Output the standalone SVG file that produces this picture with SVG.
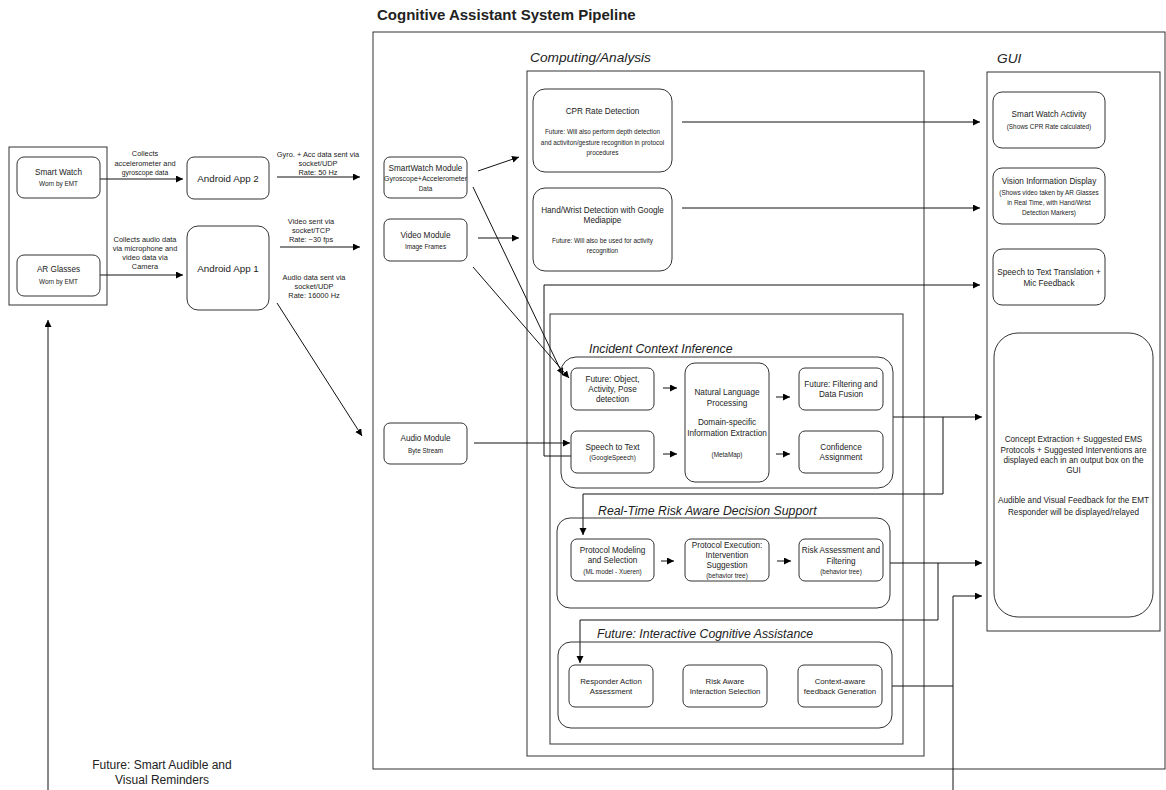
<svg xmlns="http://www.w3.org/2000/svg" width="1166" height="790" viewBox="0 0 1166 790">
<defs>
<marker id="arr" markerUnits="userSpaceOnUse" markerWidth="8" markerHeight="8" refX="7" refY="3.5" orient="auto">
<path d="M0,0 L7,3.5 L0,7 z" fill="#000"/>
</marker>
<style>
text{font-family:"Liberation Sans",Arial,sans-serif;fill:#222;text-anchor:middle;dominant-baseline:central}
.frame{fill:none;stroke:#333;stroke-width:1}
.box{fill:#fff;stroke:#333;stroke-width:1}
.grp{fill:none;stroke:#333;stroke-width:1}
.c{fill:none;stroke:#111;stroke-width:1}
.a{marker-end:url(#arr)}
.t{font-size:8.2px}
.s{font-size:6.4px}
.e{font-size:7.4px}
.h{font-size:13.7px;font-style:italic;text-anchor:start}
.g{font-size:12.3px;font-style:italic;text-anchor:start}
.big{font-size:9.8px}
</style>
</defs>
<rect width="1166" height="790" fill="#fff"/>
<text x="377" y="14" style="font-size:15px;font-weight:bold;text-anchor:start" fill="#000">Cognitive Assistant System Pipeline</text>

<g id="frames">
<rect class="frame" x="373" y="32" width="792" height="737"/>
<rect class="frame" x="527" y="71" width="397" height="685"/>
<rect class="frame" x="987" y="72" width="173" height="559"/>
<rect class="frame" x="550" y="314" width="353" height="430"/>
<rect class="frame" x="9" y="147" width="98" height="158"/>
<text class="h" x="530" y="57">Computing/Analysis</text>
<text class="h" x="997" y="58">GUI</text>
</g>

<g id="connectors">
<line class="c a" x1="100" y1="179" x2="183" y2="179"/>
<line class="c a" x1="100" y1="275" x2="183" y2="275"/>
<line class="c a" x1="277" y1="177" x2="360" y2="177"/>
<line class="c a" x1="280" y1="247" x2="360" y2="247"/>
<line class="c a" x1="277" y1="303" x2="362" y2="436"/>
<line class="c a" x1="478" y1="171" x2="519" y2="157"/>
<line class="c a" x1="478" y1="238" x2="519" y2="238"/>
<line class="c a" x1="473" y1="187" x2="563" y2="375"/>
<line class="c a" x1="473" y1="267" x2="569" y2="378"/>
<line class="c a" x1="474" y1="443" x2="570" y2="443"/>
<polyline class="c a" points="571,456 544,456 544,285 980,285"/>
<line class="c a" x1="682" y1="122" x2="980" y2="122"/>
<line class="c a" x1="682" y1="208" x2="980" y2="208"/>
<line class="c a" x1="893" y1="417" x2="982" y2="417"/>
<polyline class="c a" points="943,417 943,494 583,494 583,535"/>
<line class="c a" x1="890" y1="563" x2="982" y2="563"/>
<polyline class="c a" points="938,563 938,620 580,620 580,663"/>
<line class="c" x1="892" y1="686" x2="953" y2="686"/>
<polyline class="c a" points="953,790 953,596 982,596"/>
<line class="c a" x1="48" y1="790" x2="48" y2="320"/>
<line class="c a" x1="663" y1="388" x2="677" y2="388"/>
<line class="c a" x1="663" y1="454" x2="677" y2="454"/>
<line class="c a" x1="776" y1="397" x2="790" y2="397"/>
<line class="c a" x1="776" y1="454" x2="790" y2="454"/>
<line class="c a" x1="661" y1="561" x2="674" y2="561"/>
<line class="c a" x1="777" y1="561" x2="791" y2="561"/>
<text class="e" x="145" y="153">Collects</text>
<text class="e" x="145" y="163">accelerometer and</text>
<text class="e" x="145" y="172" style="font-size:6.8px">gyroscope data</text>
<text class="e" x="145" y="239">Collects audio data</text>
<text class="e" x="145" y="248">via microphone and</text>
<text class="e" x="145" y="257">video data via</text>
<text class="e" x="145" y="266">Camera</text>
<text class="e" x="318" y="154">Gyro. + Acc data sent via</text>
<text class="e" x="318" y="163">socket/UDP</text>
<text class="e" x="318" y="172">Rate: 50 Hz</text>
<text class="e" x="311" y="221">Video sent via</text>
<text class="e" x="311" y="230">socket/TCP</text>
<text class="e" x="311" y="239">Rate: ~30 fps</text>
<text class="e" x="314" y="277">Audio data sent via</text>
<text class="e" x="314" y="286">socket/UDP</text>
<text class="e" x="314" y="295">Rate: 16000 Hz</text>
<text x="162" y="765" style="font-size:12px">Future: Smart Audible and</text>
<text x="162" y="780" style="font-size:12px">Visual Reminders</text>
</g>

<g id="smart-watch">
<rect class="box" x="17" y="157" width="83" height="41" rx="7"/>
<text class="t" x="58.5" y="172">Smart Watch</text>
<text class="s" x="58.5" y="183">Worn by EMT</text>
</g>
<g id="ar-glasses">
<rect class="box" x="17" y="255" width="83" height="41" rx="7"/>
<text class="t" x="58.5" y="269">AR Glasses</text>
<text class="s" x="58.5" y="281">Worn by EMT</text>
</g>
<g id="android-app-2">
<rect class="box" x="187" y="157" width="82" height="42" rx="7"/>
<text class="big" x="228" y="178">Android App 2</text>
</g>
<g id="android-app-1">
<rect class="box" x="187" y="226" width="82" height="84" rx="11"/>
<text class="big" x="228" y="268">Android App 1</text>
</g>

<g id="smartwatch-module">
<rect class="box" x="384" y="157" width="83" height="41" rx="6"/>
<text class="t" x="425.5" y="168">SmartWatch Module</text>
<text class="s" x="425.5" y="178" style="font-size:7px">Gyroscope+Accelerometer</text>
<text class="s" x="425.5" y="188">Data</text>
</g>
<g id="video-module">
<rect class="box" x="384" y="219" width="83" height="42" rx="6"/>
<text class="t" x="425.5" y="235">Video Module</text>
<text class="s" x="425.5" y="246">Image Frames</text>
</g>
<g id="audio-module">
<rect class="box" x="384" y="423" width="83" height="41" rx="6"/>
<text class="t" x="425.5" y="438">Audio Module</text>
<text class="s" x="425.5" y="450">Byte Stream</text>
</g>

<g id="cpr-rate-detection">
<rect class="box" x="533" y="89" width="139" height="83" rx="12"/>
<text class="t" x="602.5" y="111">CPR Rate Detection</text>
<text class="s" x="602.5" y="131">Future: Will also perform depth detection</text>
<text class="s" x="602.5" y="142">and activiton/gesture recognition in protocol</text>
<text class="s" x="602.5" y="152">procedures</text>
</g>
<g id="hand-wrist-detection">
<rect class="box" x="533" y="188" width="139" height="83" rx="12"/>
<text class="t" x="602.5" y="210">Hand/Wrist Detection with Google</text>
<text class="t" x="602.5" y="220">Mediapipe</text>
<text class="s" x="602.5" y="240">Future: Will also be used for activity</text>
<text class="s" x="602.5" y="250">recognition</text>
</g>

<g id="incident-context-inference">
<rect class="grp" x="561" y="357" width="332" height="131" rx="15"/>
<text class="g" x="589" y="349">Incident Context Inference</text>
</g>
<g id="object-activity-pose">
<rect class="box" x="571" y="368" width="83" height="42" rx="6"/>
<text class="t" x="612.5" y="379">Future: Object,</text>
<text class="t" x="612.5" y="389">Activity, Pose</text>
<text class="t" x="612.5" y="399">detection</text>
</g>
<g id="speech-to-text">
<rect class="box" x="571" y="431" width="83" height="42" rx="6"/>
<text class="t" x="612.5" y="447">Speech to Text</text>
<text class="s" x="612.5" y="457">(GoogleSpeech)</text>
</g>
<g id="nlp">
<rect class="box" x="685" y="363" width="84" height="119" rx="10"/>
<text class="t" x="727" y="392">Natural Language</text>
<text class="t" x="727" y="403">Processing</text>
<text class="t" x="727" y="422">Domain-specific</text>
<text class="t" x="727" y="433">Information Extraction</text>
<text class="s" x="727" y="454">(MetaMap)</text>
</g>
<g id="filtering-fusion">
<rect class="box" x="799" y="368" width="84" height="42" rx="6"/>
<text class="t" x="841" y="384">Future: Filtering and</text>
<text class="t" x="841" y="394">Data Fusion</text>
</g>
<g id="confidence-assignment">
<rect class="box" x="799" y="431" width="84" height="42" rx="6"/>
<text class="t" x="841" y="447">Confidence</text>
<text class="t" x="841" y="457">Assignment</text>
</g>

<g id="real-time-decision-support">
<rect class="grp" x="557" y="518" width="333" height="90" rx="13"/>
<text class="g" x="598" y="511">Real-Time Risk Aware Decision Support</text>
</g>
<g id="protocol-modeling">
<rect class="box" x="571" y="539" width="83" height="42" rx="6"/>
<text class="t" x="612.5" y="550">Protocol Modeling</text>
<text class="t" x="612.5" y="560">and Selection</text>
<text class="s" x="612.5" y="571">(ML model - Xueren)</text>
</g>
<g id="protocol-execution">
<rect class="box" x="685" y="539" width="84" height="42" rx="6"/>
<text class="t" x="727" y="545">Protocol Execution:</text>
<text class="t" x="727" y="555">Intervention</text>
<text class="t" x="727" y="565">Suggestion</text>
<text class="s" x="727" y="575">(behavior tree)</text>
</g>
<g id="risk-assessment">
<rect class="box" x="799" y="539" width="84" height="42" rx="6"/>
<text class="t" x="841" y="550">Risk Assessment and</text>
<text class="t" x="841" y="561">Filtering</text>
<text class="s" x="841" y="571">(behavior tree)</text>
</g>

<g id="interactive-cognitive-assistance">
<rect class="grp" x="558" y="642" width="334" height="86" rx="13"/>
<text class="g" x="597" y="634">Future: Interactive Cognitive Assistance</text>
</g>
<g id="responder-action">
<rect class="box" x="569" y="665" width="84" height="42" rx="6"/>
<text class="t" x="611" y="681" style="font-size:7.8px">Responder Action</text>
<text class="t" x="611" y="691" style="font-size:7.8px">Assessment</text>
</g>
<g id="risk-aware-interaction">
<rect class="box" x="683" y="665" width="84" height="42" rx="6"/>
<text class="t" x="725" y="681" style="font-size:7.8px">Risk Aware</text>
<text class="t" x="725" y="691" style="font-size:7.8px">Interaction Selection</text>
</g>
<g id="context-aware-feedback">
<rect class="box" x="798" y="665" width="84" height="42" rx="6"/>
<text class="t" x="840" y="681" style="font-size:7.8px">Context-aware</text>
<text class="t" x="840" y="691" style="font-size:7.8px">feedback Generation</text>
</g>

<g id="gui-smart-watch-activity">
<rect class="box" x="993" y="92" width="112" height="56" rx="9"/>
<text class="t" x="1049" y="114">Smart Watch Activity</text>
<text class="s" x="1049" y="126">(Shows CPR Rate calculated)</text>
</g>
<g id="gui-vision-display">
<rect class="box" x="993" y="168" width="112" height="56" rx="9"/>
<text class="t" x="1049" y="181">Vision Information Display</text>
<text class="s" x="1049" y="192">(Shows video taken by AR Glasses</text>
<text class="s" x="1049" y="202">in Real Time, with Hand/Wrist</text>
<text class="s" x="1049" y="212">Detection Markers)</text>
</g>
<g id="gui-speech-to-text">
<rect class="box" x="993" y="249" width="112" height="56" rx="9"/>
<text class="t" x="1049" y="272">Speech to Text Translation +</text>
<text class="t" x="1049" y="283">Mic Feedback</text>
</g>
<g id="gui-output">
<rect class="box" x="994" y="333" width="159" height="284" rx="24"/>
<text class="t" x="1073.5" y="439">Concept Extraction + Suggested EMS</text>
<text class="t" x="1073.5" y="450">Protocols + Suggested Interventions  are</text>
<text class="t" x="1073.5" y="460">displayed each in an output box on the</text>
<text class="t" x="1073.5" y="470">GUI</text>
<text class="t" x="1073.5" y="500">Audible and Visual Feedback for the EMT</text>
<text class="t" x="1073.5" y="512">Responder will be displayed/relayed</text>
</g>
</svg>
